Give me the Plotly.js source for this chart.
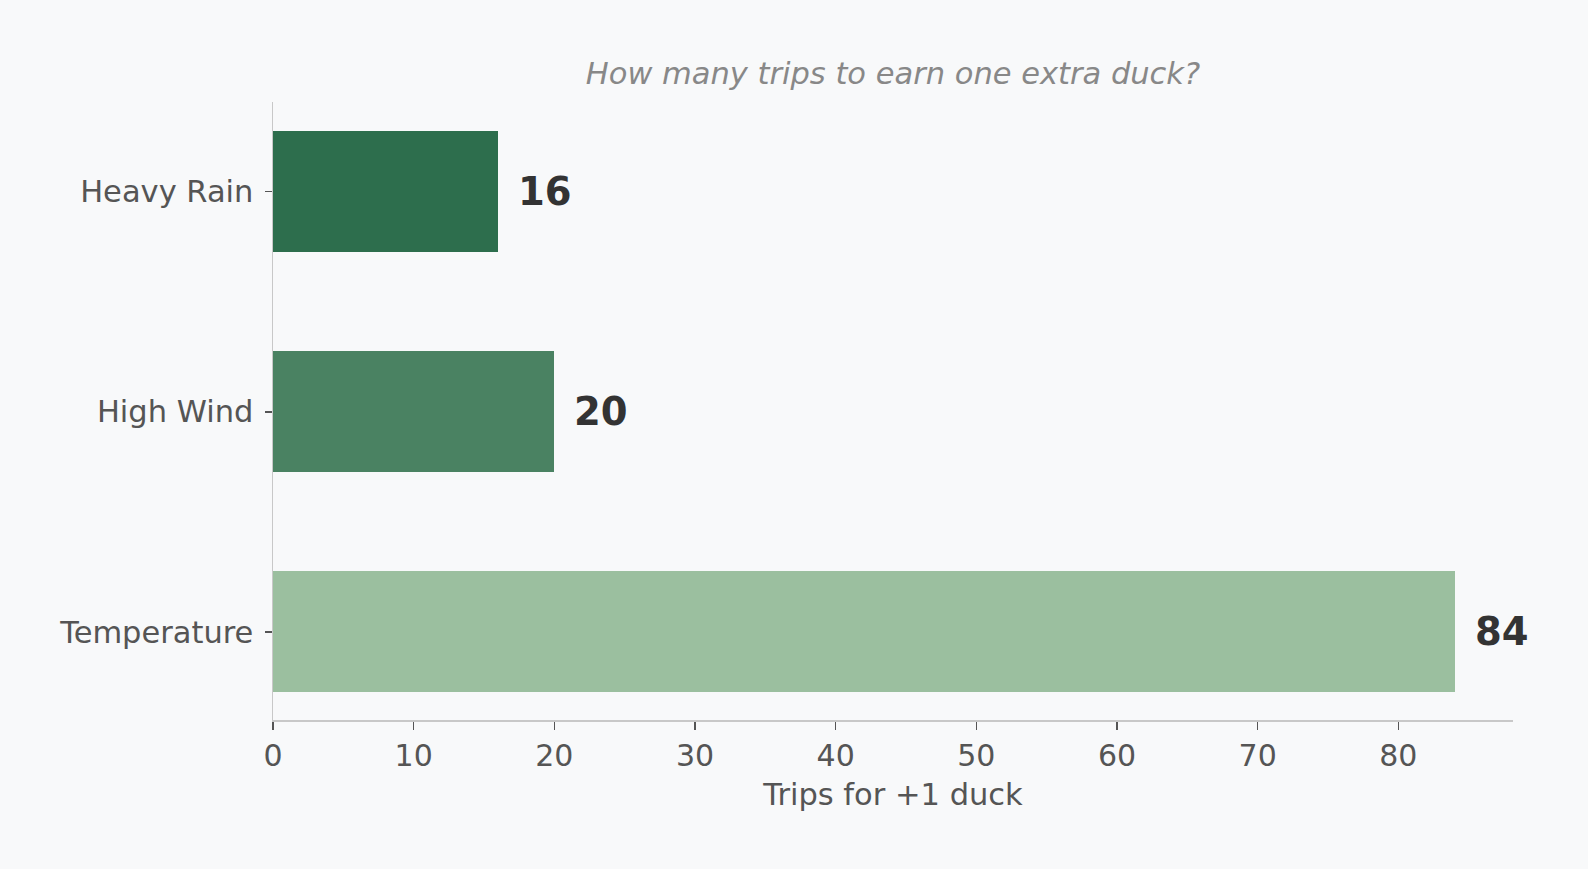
<!DOCTYPE html>
<html>
<head>
<meta charset="utf-8">
<script src="https://cdn.plot.ly/plotly-3.0.1.min.js"></script>
<style>
  html, body { margin: 0; padding: 0; background: #f8f9fa; }
  #chart { width: 1588px; height: 869px; }
</style>
</head>
<body>
<div id="chart"></div>
<script>
// Trips needed for one extra duck, by weather factor (bottom to top).
const FACTORS = ["Temperature", "High Wind", "Heavy Rain"];
const TRIPS = [84, 20, 16];
const BAR_COLORS = ["#9bbf9f", "#4a8262", "#2d6e4d"];

const FONT = "DejaVu Sans, Verdana, sans-serif";

// Value labels sit just past the end of each bar.
const labels = FACTORS.map((f, i) => ({
  x: TRIPS[i],
  y: f,
  text: String(TRIPS[i]),
  showarrow: false,
  xanchor: "left",
  yanchor: "middle",
  xshift: 18,
  font: { family: FONT, size: 38.5, color: "#333333", weight: "bold" },
}));

Plotly.newPlot("chart", [{
  type: "bar",
  orientation: "h",
  x: TRIPS,
  y: FACTORS,
  width: 0.55,
  marker: { color: BAR_COLORS, line: { width: 0 } },
  hovertemplate: "%{y}: %{x}<extra></extra>",
}], {
  width: 1588,
  height: 869,
  margin: { l: 273, r: 75, t: 102, b: 149 },
  paper_bgcolor: "#f8f9fa",
  plot_bgcolor: "#f8f9fa",
  font: { family: FONT, size: 30.5, color: "#555555" },
  title: {
    text: "<i>How many trips to earn one extra duck?</i>",
    font: { family: FONT, size: 30.5, color: "#888888" },
    x: 0.5,
    xref: "paper",
    xanchor: "center",
    y: 1,
    yref: "paper",
    yanchor: "bottom",
    pad: { b: 18 },
  },
  xaxis: {
    range: [0, 88.15],
    dtick: 10,
    showgrid: false,
    zeroline: false,
    showline: true,
    linecolor: "#c8c8c8",
    linewidth: 1.5,
    ticks: "outside",
    ticklen: 8,
    tickwidth: 1.5,
    tickcolor: "#555555",
    tickfont: { size: 30, color: "#555555" },
    title: { text: "Trips for +1 duck", font: { size: 30.5, color: "#555555" }, standoff: 12 },
  },
  yaxis: {
    type: "category",
    categoryorder: "array",
    categoryarray: FACTORS,
    range: [-0.4, 2.407],
    showgrid: false,
    zeroline: false,
    showline: true,
    linecolor: "#c8c8c8",
    linewidth: 1.5,
    ticks: "outside",
    ticklen: 7,
    tickwidth: 1.5,
    tickcolor: "#555555",
    ticklabelstandoff: 5,
    tickfont: { size: 30.5, color: "#555555" },
  },
  annotations: labels,
  showlegend: false,
  bargap: 0,
}, { displayModeBar: false, staticPlot: true });
</script>
</body>
</html>
